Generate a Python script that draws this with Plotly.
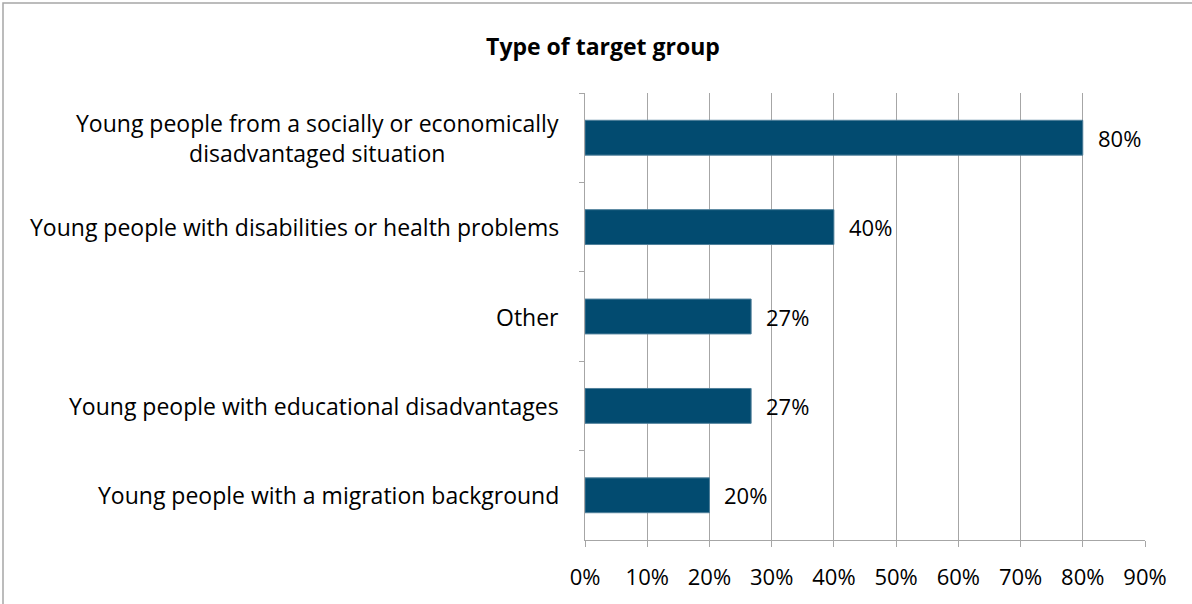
import plotly.graph_objects as go

categories = [
    "Young people from a socially or economically<br>disadvantaged situation",
    "Young people with disabilities or health problems",
    "Other",
    "Young people with educational disadvantages",
    "Young people with a migration background",
]
values = [0.80, 0.40, 0.267, 0.267, 0.20]
value_labels = ["80%", "40%", "27%", "27%", "20%"]
x_ticks = [0, 0.1, 0.2, 0.3, 0.4, 0.5, 0.6, 0.7, 0.8, 0.9]
x_tick_labels = ["0%", "10%", "20%", "30%", "40%", "50%", "60%", "70%", "80%", "90%"]

FONT = "Open Sans"
BAR = "#024B70"
GRID = "#A6A6A6"

fig = go.Figure()
fig.add_trace(go.Bar(
    y=categories,
    x=values,
    orientation="h",
    marker=dict(color=BAR, line=dict(color="#4F7F9A", width=1)),
    width=0.39,
    hoverinfo="skip",
))

for cat, val, lab in zip(categories, values, value_labels):
    fig.add_annotation(
        x=0, xref="paper", y=cat, yref="y",
        text=cat, showarrow=False, xanchor="right", align="center",
        xshift=-24, font=dict(family=FONT, size=23, color="#000000"),
    )
    fig.add_annotation(
        x=val, xref="x", y=cat, yref="y",
        text=lab, showarrow=False, xanchor="left", align="left",
        xshift=13, font=dict(family=FONT, size=22, color="#000000"),
    )

fig.add_shape(type="rect", xref="paper", yref="paper",
              x0=(3 - 585) / 560, x1=1.3, y0=-0.4, y1=(540 - 3) / 447,
              line=dict(color=GRID, width=1.5), fillcolor="rgba(0,0,0,0)", layer="below")

fig.update_layout(
    width=1192, height=604,
    margin=dict(l=585, r=47, t=93, b=64),
    paper_bgcolor="white", plot_bgcolor="white",
    showlegend=False,
    title=dict(text="<b>Type of target group</b>", x=603 / 1192, xref="container",
               xanchor="center", y=1 - 47 / 604, yanchor="middle",
               font=dict(family=FONT, size=23, color="#000000")),
    xaxis=dict(range=[0, 0.9], tickvals=x_ticks, ticktext=x_tick_labels,
               showgrid=True, gridcolor=GRID, gridwidth=1,
               showline=True, linecolor=GRID, linewidth=1,
               ticks="outside", ticklen=6, tickcolor=GRID,
               ticklabelstandoff=12,
               tickfont=dict(family=FONT, size=22, color="#000000"),
               zeroline=False, fixedrange=True, automargin=False),
    yaxis=dict(autorange="reversed", showticklabels=False,
               tickson="boundaries", ticks="outside", ticklen=5, tickcolor=GRID,
               showgrid=False, showline=True, linecolor=GRID, linewidth=1,
               zeroline=False, fixedrange=True, automargin=False),
)

fig.write_html("out.html", config={"displayModeBar": False},
               post_script="document.body.style.margin='0';")
